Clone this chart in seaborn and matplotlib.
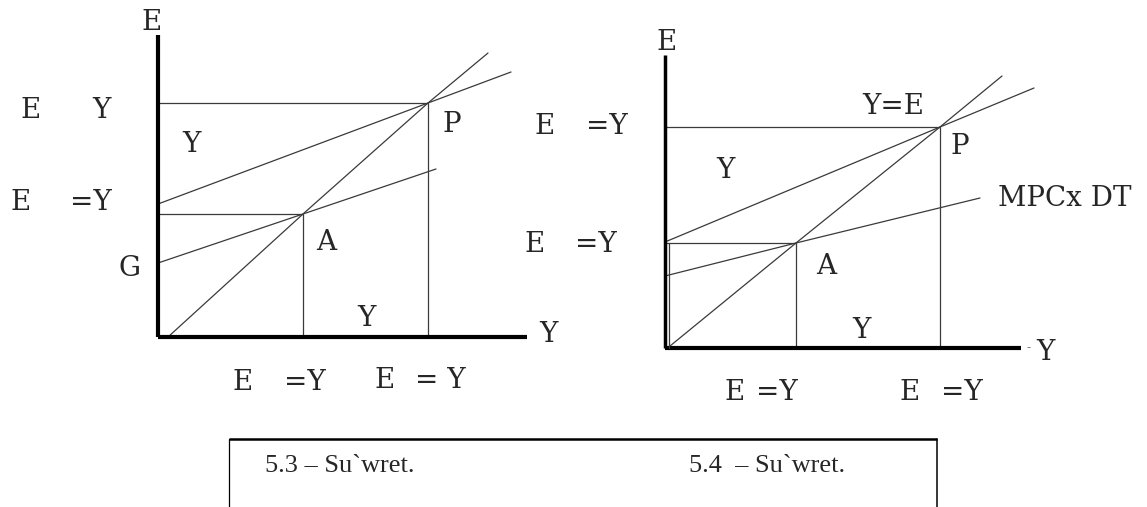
import matplotlib
matplotlib.use("Agg")
import matplotlib.pyplot as plt
import seaborn as sns

sns.set_style("white")
plt.rcParams["font.family"] = ["DejaVu Serif"]

# -----------------------------
# Left diagram (5.3): Y on x axis, E on y axis
# -----------------------------
left_A = (14.5, 12.3)
left_P = (27.0, 23.4)
left_45_y = [1.0, 14.5, 27.0, 33.0]
left_45_e = [0.0, 12.3, 23.4, 28.4]
left_low_y = [0.0, 14.5, 27.8]
left_low_e = [7.4, 12.3, 16.8]
left_up_y = [0.0, 27.0, 35.3]
left_up_e = [13.3, 23.4, 26.5]
left_axis_end = (36.9, 30.2)

# -----------------------------
# Right diagram (5.4)
# -----------------------------
right_A = (13.1, 10.5)
right_P = (27.5, 22.1)
right_45_y = [0.5, 13.1, 27.5, 33.7]
right_45_e = [0.2, 10.5, 22.1, 27.2]
right_low_y = [0.0, 13.1, 31.5]
right_low_e = [7.2, 10.5, 15.0]
right_up_y = [0.0, 27.5, 36.9]
right_up_e = [10.6, 22.1, 26.0]
right_axis_end = (35.6, 29.3)

captions = ["5.3 – Su`wret.", "5.4  – Su`wret."]

W, H = 1147, 507
fig = plt.figure(figsize=(W / 100, H / 100), dpi=100)

thin = dict(color="#3a3a3a", lw=0.9, sort=False, estimator=None, legend=False)
fs = 20


def line(ax, xs, ys):
    sns.lineplot(x=xs, y=ys, ax=ax, **thin)


def draw_panel(ax, A, P, l45, low, up, axis_end, y_lw):
    # drop lines from the two equilibria
    for pt in (A, P):
        line(ax, [0, pt[0], pt[0]], [pt[1], pt[1], 0])
    line(ax, *l45)
    line(ax, *low)
    line(ax, *up)
    # thick axes
    ax.plot([0, 0], [0, axis_end[1]], color="black", lw=y_lw, solid_capstyle="butt")
    ax.plot([0, axis_end[0]], [0, 0], color="black", lw=3, solid_capstyle="butt")


def txt(ax, x, y, s, **kw):
    ax.text(x, y, s, fontsize=fs, ha="center", va="center", **kw)


# left panel, 10 px per unit
axL = fig.add_axes([0, 87 / H, 573 / W, 420 / H])
axL.set_xlim(-15.8, 41.5)
axL.set_ylim(-8.3, 33.7)
draw_panel(axL, left_A, left_P, (left_45_y, left_45_e), (left_low_y, left_low_e),
           (left_up_y, left_up_e), left_axis_end, 3)

txt(axL, -0.6, 31.4, "E")
txt(axL, 39.0, 0.2, "Y")
txt(axL, -12.7, 22.7, "E")
txt(axL, -5.7, 22.7, "Y")
txt(axL, 3.3, 19.2, "Y")
txt(axL, 29.4, 21.2, "P")
txt(axL, -13.7, 13.5, "E")
txt(axL, -6.7, 13.5, "=Y")
txt(axL, 16.8, 9.4, "A")
txt(axL, -2.9, 6.8, "G")
txt(axL, 20.8, 1.9, "Y")
txt(axL, 8.5, -4.5, "E")
txt(axL, 14.7, -4.5, "=Y")
txt(axL, 22.7, -4.3, "E")
txt(axL, 28.2, -4.3, "= Y")

# right panel
axR = fig.add_axes([573 / W, 87 / H, 574 / W, 420 / H])
axR.set_xlim(-9.2, 48.2)
axR.set_ylim(-7.2, 34.8)
draw_panel(axR, right_A, right_P, (right_45_y, right_45_e), (right_low_y, right_low_e),
           (right_up_y, right_up_e), right_axis_end, 2.5)
# second thin vertical next to the axis, up to A
line(axR, [0.4, 0.4], [0, right_A[1]])

txt(axR, 0.2, 30.6, "E")
txt(axR, 22.8, 24.2, "Y=E")
txt(axR, 29.5, 20.1, "P")
txt(axR, 6.0, 17.8, "Y")
axR.text(33.3, 15.0, "MPCx DT", fontsize=fs, ha="left", va="center")
txt(axR, 16.1, 8.1, "A")
txt(axR, 19.6, 1.8, "Y")
txt(axR, 38.0, -0.4, "Y")
axR.text(36.4, 0.0, "-", fontsize=9, ha="center", va="center", color="#555555")
txt(axR, -12.0, 22.2, "E")
txt(axR, -5.8, 22.2, "=Y")
txt(axR, -13.0, 10.3, "E")
txt(axR, -6.9, 10.3, "=Y")
txt(axR, 7.0, -4.4, "E")
txt(axR, 11.2, -4.4, "=Y")
txt(axR, 24.5, -4.4, "E")
txt(axR, 29.7, -4.4, "=Y")

for ax in (axL, axR):
    ax.set_axis_off()

# caption box at the bottom
axC = fig.add_axes([0, 0, 1, 87 / H])
axC.set_xlim(0, W)
axC.set_ylim(0, 87)
axC.set_axis_off()
axC.plot([229, 937], [68, 68], color="black", lw=1.8, solid_capstyle="butt")
axC.plot([229, 229], [0, 68], color="black", lw=0.9)
axC.plot([937, 937], [0, 68], color="black", lw=1.1)
axC.text(265, 41, captions[0], fontsize=19, family="Liberation Serif", ha="left", va="center")
axC.text(689, 41, captions[1], fontsize=19, family="Liberation Serif", ha="left", va="center")

fig.savefig("out.png", dpi=100, facecolor="white")
